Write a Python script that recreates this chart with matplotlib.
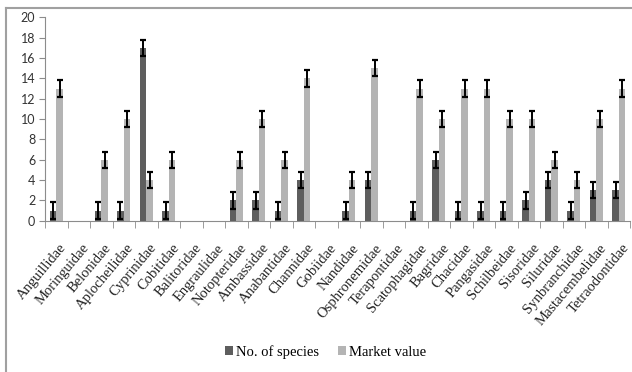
import matplotlib
matplotlib.use("Agg")
import matplotlib.pyplot as plt
import matplotlib.transforms as mtransforms
from matplotlib.lines import Line2D
import numpy as np

families = ["Anguillidae", "Moringuidae", "Belonidae", "Aplocheilidae", "Cyprinidae",
            "Cobitidae", "Balitoridae", "Engraulidae", "Notopteridae", "Ambassidae",
            "Anabantidae", "Channidae", "Gobiidae", "Nandidae", "Osphronemidae",
            "Terapontidae", "Scatophagidae", "Bagridae", "Chacidae", "Pangasidae",
            "Schilbeidae", "Sisoridae", "Siluridae", "Synbranchidae", "Mastacembelidae",
            "Tetraodontidae"]
n_species = [1, 0, 1, 1, 17, 1, 0, 0, 2, 2, 1, 4, 0, 1, 4, 0, 1, 6, 1, 1, 1, 2, 4, 1, 3, 3]
market_value = [13, 0, 6, 10, 4, 6, 0, 0, 6, 10, 6, 14, 0, 4, 15, 0, 13, 10, 13, 13,
                10, 10, 6, 4, 10, 13]
err = 0.8

dark = "#5e5e5e"
light = "#b4b4b4"
axis_col = "#8c8c8c"

fig = plt.figure(figsize=(6.32, 3.72), dpi=100)
ax = fig.add_axes([0.0712, 0.4067, 0.9258, 0.5463])

x = np.arange(len(families))
w = 0.29
sp = np.array(n_species, dtype=float)
mv = np.array(market_value, dtype=float)

ax.bar(x - w / 2, sp, w, color=dark, label="No. of species")
ax.bar(x + w / 2, mv, w, color=light, label="Market value")

# error bars only where there is a bar
m = sp > 0
ax.errorbar(x[m] - w / 2, sp[m], yerr=err, fmt="none", ecolor="black",
            elinewidth=1.4, capsize=2.4, capthick=1.6)
m = mv > 0
ax.errorbar(x[m] + w / 2, mv[m], yerr=err, fmt="none", ecolor="black",
            elinewidth=1.4, capsize=2.4, capthick=1.6)

ax.set_xlim(-0.5, len(families) - 0.5)
ax.set_ylim(0, 20)
ax.set_yticks(range(0, 21, 2))
ax.tick_params(axis="y", labelsize=9, length=4, color=axis_col, labelcolor="#333333", pad=3)
for t in ax.get_yticklabels():
    t.set_family("Lato")

ax.set_xticks(x)
ax.set_xticklabels(families, rotation=50, ha="right", rotation_mode="anchor",
                   family="Liberation Serif", fontsize=10.5, color="#222222")
ax.tick_params(axis="x", length=0, pad=15)
shift = mtransforms.ScaledTranslation(3 / 100, 0, fig.dpi_scale_trans)
for t in ax.get_xticklabels():
    t.set_transform(t.get_transform() + shift)
ax.set_xticks(np.arange(len(families) + 1) - 0.5, minor=True)
ax.tick_params(axis="x", which="minor", length=5, color=axis_col)

for s in ["top", "right"]:
    ax.spines[s].set_visible(False)
for s in ["left", "bottom"]:
    ax.spines[s].set_color(axis_col)

ax.legend(loc="center", bbox_to_anchor=(0.479, -0.646), ncol=2, frameon=False,
          prop={"family": "Liberation Serif", "size": 10.5}, handlelength=0.55,
          handleheight=0.55, handletextpad=0.2, columnspacing=1.3)

# outer chart frame (only top and left edges visible)
fig.add_artist(Line2D([5.5 / 632, 5.5 / 632], [0, 1 - 7.5 / 372], transform=fig.transFigure,
                      color="#a0a0a0", lw=1.5))
fig.add_artist(Line2D([5.5 / 632, 1], [1 - 7.5 / 372, 1 - 7.5 / 372], transform=fig.transFigure,
                      color="#a0a0a0", lw=1.5))

fig.savefig("out.png", dpi=100)
